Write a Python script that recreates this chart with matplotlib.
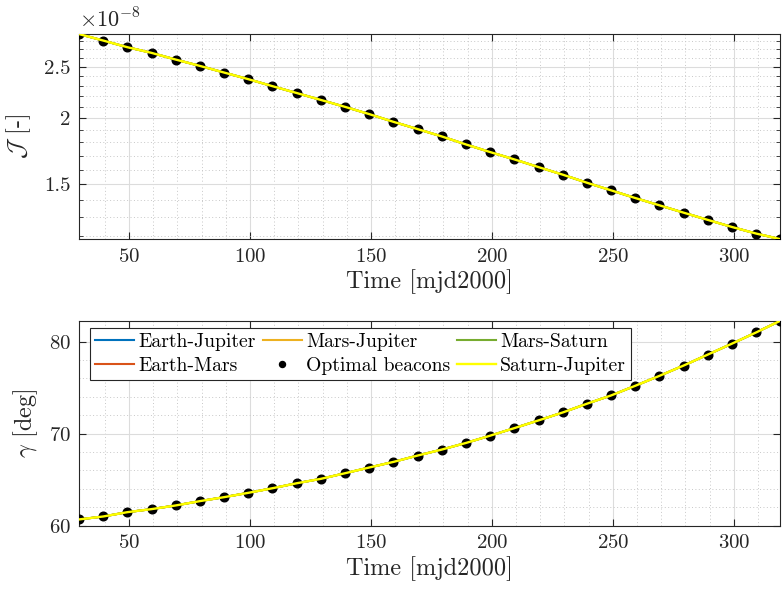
import matplotlib
matplotlib.use('Agg')
import matplotlib.pyplot as plt
import numpy as np

# data
t = [29.3, 39.3, 49.3, 59.3, 69.3, 79.3, 89.3, 99.3, 109.3, 119.3,
     129.3, 139.3, 149.3, 159.3, 169.3, 179.3, 189.3, 199.3, 209.3, 219.3,
     229.3, 239.3, 249.3, 259.3, 269.3, 279.3, 289.3, 299.3, 309.3, 319.3]

# cost J, in units of 1e-8
J = [2.88, 2.80, 2.72, 2.654, 2.578, 2.508, 2.437, 2.368, 2.297, 2.230,
     2.164, 2.100, 2.035, 1.968, 1.907, 1.847, 1.784, 1.726, 1.672, 1.617,
     1.565, 1.511, 1.462, 1.414, 1.370, 1.327, 1.286, 1.247, 1.212, 1.183]

# angle gamma [deg]
gamma = [60.68, 61.0, 61.47, 61.80, 62.2, 62.67, 63.1, 63.57, 64.07, 64.61,
         65.09, 65.70, 66.32, 66.93, 67.62, 68.27, 68.99, 69.78, 70.6, 71.44,
         72.3, 73.25, 74.15, 75.2, 76.28, 77.4, 78.59, 79.78, 81.0, 82.27]

pairs = ['Earth-Jupiter', 'Earth-Mars', 'Mars-Jupiter', 'Mars-Saturn', 'Saturn-Jupiter']
pair_colors = ['#0072BD', '#D95319', '#EDB120', '#77AC30', '#FFFF00']

plt.rcParams['font.family'] = 'serif'
plt.rcParams['font.serif'] = ['cmr10']
plt.rcParams['mathtext.fontset'] = 'cm'
plt.rcParams['axes.unicode_minus'] = False
plt.rcParams['axes.formatter.use_mathtext'] = True

axcol = '#262626'

fig = plt.figure(figsize=(7.82, 5.92), dpi=100)
ax1 = fig.add_axes([0.101, 0.596, 0.897, 0.3465])
ax2 = fig.add_axes([0.101, 0.112, 0.897, 0.3463])


def style(ax):
    ax.tick_params(which='both', direction='in', top=True, right=True,
                   colors=axcol, labelsize=15, pad=6)
    ax.tick_params(which='major', length=5)
    ax.tick_params(which='minor', length=0)
    for s in ax.spines.values():
        s.set_color(axcol)
        s.set_linewidth(0.8)
    ax.grid(which='major', color='#dcdcdc', linewidth=0.8)
    ax.grid(which='minor', color='#c8c8c8', linestyle=(0, (1, 2.5)), linewidth=0.7)
    ax.set_axisbelow(True)
    ax.set_xlim(t[0], t[-1])
    ax.set_xticks([50, 100, 150, 200, 250, 300])
    ax.set_xticks(np.arange(40, 320, 10), minor=True)
    ax.set_xlabel('Time [mjd2000]', fontsize=17.5, color=axcol, labelpad=3)


def draw(ax, y):
    handles = {}
    for name, c in zip(pairs[:-1], pair_colors[:-1]):
        handles[name], = ax.plot(t, y, color=c, lw=1.5)
    handles['Optimal beacons'], = ax.plot(t, y, 'o', color='black', ms=6.2,
                                          linestyle='none', zorder=3)
    handles['Saturn-Jupiter'], = ax.plot(t, y, color=pair_colors[-1], lw=1.7, zorder=4)
    return handles


# top panel
draw(ax1, J)
ax1.set_yscale('log')
ax1.set_ylim(J[-1], J[0])
ax1.set_yticks([1.5, 2, 2.5])
ax1.set_yticklabels(['1.5', '2', '2.5'])
minor = [v / 10 for v in range(12, 29) if v not in (15, 20, 25)]
ax1.set_yticks(minor, minor=True)
ax1.yaxis.set_minor_formatter(matplotlib.ticker.NullFormatter())
style(ax1)
ax1.tick_params(axis='y', which='minor', length=3)
ax1.set_ylabel(r'$\mathcal{J}$ [-]', fontsize=17.5, color=axcol, labelpad=8)
ax1.text(0.0, 1.012, r'$\times10^{-8}$', transform=ax1.transAxes,
         fontsize=16, color=axcol, ha='left', va='bottom')

# bottom panel
h = draw(ax2, gamma)
ax2.set_ylim(60, gamma[-1])
ax2.set_yticks([60, 70, 80])
ax2.set_yticks(np.arange(62, 82, 2), minor=True)
style(ax2)
ax2.set_ylabel(r'$\gamma$ [deg]', fontsize=17.5, color=axcol, labelpad=6)

order = ['Earth-Jupiter', 'Earth-Mars', 'Mars-Jupiter', 'Optimal beacons',
         'Mars-Saturn', 'Saturn-Jupiter']
leg = ax2.legend([h[k] for k in order], order, ncol=3, loc='upper left',
                 bbox_to_anchor=(0.0156, 0.966), borderaxespad=0, fontsize=14.2,
                 fancybox=False, framealpha=1, edgecolor=axcol,
                 handlelength=2.0, handletextpad=0.2, columnspacing=0.35,
                 labelspacing=0.32, borderpad=0.25, markerscale=0.7)
leg.get_frame().set_linewidth(0.8)

fig.savefig('out.png', dpi=100)
